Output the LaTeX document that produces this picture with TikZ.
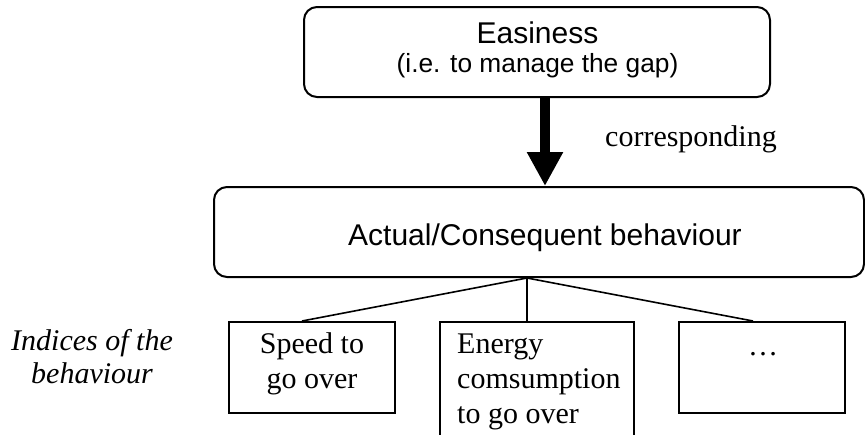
\documentclass[tikz,border=0pt]{standalone}
\usepackage{fontspec}
\setmainfont{Liberation Serif}
\setsansfont{Liberation Sans}
\usetikzlibrary{arrows.meta,calc}
\tikzset{
  roundbox/.style={draw=black, line width=2pt, rounded corners=13pt, inner sep=0pt},
  plainbox/.style={draw=black, line width=2pt, inner sep=0pt},
  sanstext/.style={font=\sffamily\fontsize{30}{36}\selectfont, inner sep=0pt, anchor=base},
  smallsans/.style={font=\sffamily\fontsize{26.3}{30}\selectfont, inner sep=0pt, anchor=base},
  serftext/.style={font=\rmfamily\fontsize{30}{36}\selectfont, inner sep=0pt, anchor=base},
  italtext/.style={font=\rmfamily\itshape\fontsize{30}{36}\selectfont, inner sep=0pt, anchor=base},
  link/.style={draw=black, line width=1.6pt},
  bigarrow/.style={draw=black, line width=10pt, -{Triangle[width=34pt,length=34pt]}}
}
\begin{document}
\begin{tikzpicture}[x=1pt,y=-1pt]
\useasboundingbox (0,0) rectangle (865,434);
\clip (0,0) rectangle (865,434);
% boxes
\node[roundbox, minimum width=466pt, minimum height=90pt] (top) at (537,52) {};
\node[roundbox, minimum width=650pt, minimum height=90pt] (mid) at (539,232) {};
\node[plainbox, minimum width=166pt, minimum height=91pt] (b1) at (312,367.5) {};
\node[plainbox, minimum width=194pt, minimum height=148pt] (b2) at (537,396) {};
\node[plainbox, minimum width=166pt, minimum height=91pt] (b3) at (762,367.5) {};
% texts
\node[sanstext] (t1) at (537.5,43) {Easiness};
\node[smallsans] (t2) at (537.5,72) {(i.e. to manage the gap)};
\node[serftext, anchor=base west] (corr) at (605,146) {corresponding};
\node[sanstext] (t3) at (545,245) {Actual/Consequent behaviour};
\node[serftext] (s1) at (312,353) {Speed to};
\node[serftext] (s2) at (312,388) {go over};
\node[serftext, anchor=base west] (e1) at (457,353) {Energy};
\node[serftext, anchor=base west] (e2) at (457,388) {comsumption};
\node[serftext, anchor=base west] (e3) at (457,423) {to go over};
\node[serftext] (dots) at (763,355) {…};
\node[italtext] (i1) at (92,350) {Indices of the};
\node[italtext] (i2) at (92,383) {behaviour};
% arrow
\coordinate (ax) at (545,0);
\draw[bigarrow] (top.south -| ax) -- (mid.north -| ax);
% connectors
\coordinate (j) at ($(mid.south)+(-12,0)$);
\coordinate (p1) at ($(b1.north)+(-10,0)$);
\coordinate (p2) at (j |- b2.north);
\coordinate (p3) at ($(b3.north)+(-9,0)$);
\draw[link] (j) -- (p1);
\draw[link] (j) -- (p2);
\draw[link] (j) -- (p3);
\end{tikzpicture}
\end{document}
